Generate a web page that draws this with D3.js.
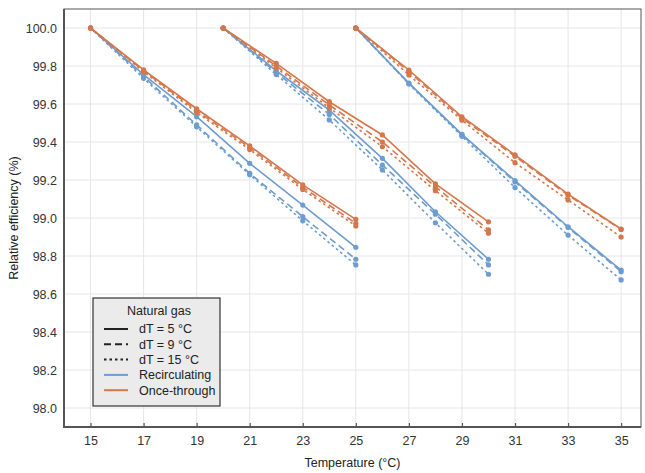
<!DOCTYPE html>
<html>
<head>
<meta charset="utf-8">
<script src="https://cdn.jsdelivr.net/npm/d3@7"></script>
<style>
  body { margin: 0; background: #fff; }
  svg { font-family: "Liberation Sans", Arial, sans-serif; }
</style>
</head>
<body>
<svg width="645" height="473"></svg>
<script>
// temperature steps for the three starting points
var startTemps = [15, 20, 25];
var steps = [0, 2, 4, 6, 8, 10];

// relative efficiency (%) per start temperature, one row per dT
var recirc15 = [
  [100, 99.755, 99.533, 99.288, 99.068, 98.846],
  [100, 99.745, 99.490, 99.235, 99.007, 98.783],
  [100, 99.735, 99.480, 99.228, 98.985, 98.753]
];
var once15 = [
  [100, 99.780, 99.575, 99.380, 99.174, 98.993],
  [100, 99.775, 99.565, 99.370, 99.162, 98.972],
  [100, 99.770, 99.555, 99.360, 99.150, 98.958]
];
var recirc20 = [
  [100, 99.775, 99.568, 99.314, 99.033, 98.783],
  [100, 99.765, 99.545, 99.279, 99.020, 98.753],
  [100, 99.755, 99.516, 99.253, 98.975, 98.704]
];
var once20 = [
  [100, 99.814, 99.612, 99.437, 99.180, 98.980],
  [100, 99.800, 99.595, 99.400, 99.165, 98.937],
  [100, 99.790, 99.580, 99.375, 99.144, 98.920]
];
var recirc25 = [
  [100, 99.710, 99.440, 99.197, 98.954, 98.726],
  [100, 99.708, 99.437, 99.190, 98.950, 98.717],
  [100, 99.705, 99.430, 99.160, 98.910, 98.674]
];
var once25 = [
  [100, 99.779, 99.533, 99.332, 99.126, 98.942],
  [100, 99.770, 99.525, 99.325, 99.120, 98.940],
  [100, 99.753, 99.515, 99.291, 99.095, 98.900]
];

var dTs = ["dT = 5 °C", "dT = 9 °C", "dT = 15 °C"];
var coolings = ["Recirculating", "Once-through"];
var xTicks = [15, 17, 19, 21, 23, 25, 27, 29, 31, 33, 35];
var yTicks = [98.0, 98.2, 98.4, 98.6, 98.8, 99.0, 99.2, 99.4, 99.6, 99.8, 100.0];

var colors = {"Recirculating": "#6d9ccf", "Once-through": "#d5774b"};
var dashes = ["none", "7,4", "2.5,3"];

var svg = d3.select("svg");
var pLeft = 64, pRight = 641, pTop = 9, pBottom = 427;

var x = d3.scaleLinear().domain([14, 36]).range([pLeft, pLeft + 22 * 26.53]);
var y = d3.scaleLinear().domain([97.9, 100.1]).range([pBottom, pTop]);

// panel
svg.append("rect")
  .attr("x", pLeft).attr("y", pTop)
  .attr("width", pRight - pLeft).attr("height", pBottom - pTop)
  .attr("fill", "#fff");

var grid = svg.append("g").attr("class", "grid");
grid.selectAll(".vg").data(xTicks).enter().append("line")
  .attr("x1", d => x(d)).attr("x2", d => x(d))
  .attr("y1", pTop).attr("y2", pBottom)
  .attr("stroke", "#e6e6e6").attr("stroke-width", 1);
grid.selectAll(".hg").data(yTicks).enter().append("line")
  .attr("x1", pLeft).attr("x2", pRight)
  .attr("y1", d => y(d)).attr("y2", d => y(d))
  .attr("stroke", "#e6e6e6").attr("stroke-width", 1);

// build series list
var groups = [
  {t0: startTemps[0], r: recirc15, o: once15},
  {t0: startTemps[1], r: recirc20, o: once20},
  {t0: startTemps[2], r: recirc25, o: once25}
];
var series = [];
groups.forEach(function(g) {
  coolings.forEach(function(c) {
    var rows = c == "Recirculating" ? g.r : g.o;
    rows.forEach(function(vals, k) {
      series.push({
        cooling: c,
        dt: k,
        points: vals.map((v, i) => ({t: g.t0 + steps[i], v: v}))
      });
    });
  });
});

var line = d3.line().x(d => x(d.t)).y(d => y(d.v));

var plot = svg.append("g").attr("class", "series");
series.forEach(function(s) {
  var gs = plot.append("g");
  gs.append("path")
    .attr("d", line(s.points))
    .attr("fill", "none")
    .attr("stroke", colors[s.cooling])
    .attr("stroke-width", 1.6)
    .attr("stroke-dasharray", dashes[s.dt]);
  gs.selectAll("circle").data(s.points).enter().append("circle")
    .attr("cx", d => x(d.t))
    .attr("cy", d => y(d.v))
    .attr("r", 2.6)
    .attr("fill", colors[s.cooling]);
});

// frame
svg.append("rect")
  .attr("x", pLeft).attr("y", pTop)
  .attr("width", pRight - pLeft).attr("height", pBottom - pTop)
  .attr("fill", "none").attr("stroke", "#555").attr("stroke-width", 1);
svg.append("line").attr("x1", pLeft).attr("x2", pLeft).attr("y1", pTop).attr("y2", pBottom + 1)
  .attr("stroke", "#555").attr("stroke-width", 2);
svg.append("line").attr("x1", pLeft - 1).attr("x2", pRight).attr("y1", pBottom).attr("y2", pBottom)
  .attr("stroke", "#555").attr("stroke-width", 2);

// axes
var xAxis = svg.append("g")
  .attr("transform", "translate(0," + pBottom + ")")
  .call(d3.axisBottom(x).tickValues(xTicks).tickSizeInner(-4).tickSizeOuter(0).tickPadding(9));
var yAxis = svg.append("g")
  .attr("transform", "translate(" + pLeft + ",0)")
  .call(d3.axisLeft(y).tickValues(yTicks).tickFormat(d3.format(".1f")).tickSize(0).tickPadding(7));
[xAxis, yAxis].forEach(function(a) {
  a.select(".domain").remove();
  a.selectAll(".tick line").attr("stroke", "#555").attr("stroke-width", 1.2);
  a.selectAll(".tick text").attr("fill", "#333").style("font-size", "12.5px");
});

svg.append("text")
  .attr("x", (pLeft + pRight) / 2).attr("y", 467)
  .attr("text-anchor", "middle")
  .style("font-size", "12.5px").attr("fill", "#222")
  .text("Temperature (°C)");
svg.append("text")
  .attr("transform", "translate(18," + ((pTop + pBottom) / 2) + ") rotate(-90)")
  .attr("text-anchor", "middle")
  .style("font-size", "12.5px").attr("fill", "#222")
  .text("Relative efficiency (%)");

// legend
var lg = svg.append("g").attr("transform", "translate(93,298)");
lg.append("rect")
  .attr("width", 127).attr("height", 108)
  .attr("fill", "#ebebeb").attr("stroke", "#333").attr("stroke-width", 1.2);
lg.append("text")
  .attr("x", 66).attr("y", 17)
  .attr("text-anchor", "middle")
  .style("font-size", "12.5px").attr("fill", "#222")
  .text("Natural gas");
var items = dTs.map((d, i) => ({label: d, color: "#222", dash: dashes[i]}))
  .concat(coolings.map(c => ({label: c, color: colors[c], dash: "none"})));
var li = lg.selectAll(".item").data(items).enter().append("g")
  .attr("transform", (d, i) => "translate(0," + (31 + i * 15.3) + ")");
li.append("line")
  .attr("x1", 11).attr("x2", 35)
  .attr("stroke", d => d.color).attr("stroke-width", 2)
  .attr("stroke-dasharray", d => d.dash);
li.append("text")
  .attr("x", 46).attr("dy", "0.35em")
  .style("font-size", "12.5px").attr("fill", "#222")
  .text(d => d.label);
</script>
</body>
</html>
